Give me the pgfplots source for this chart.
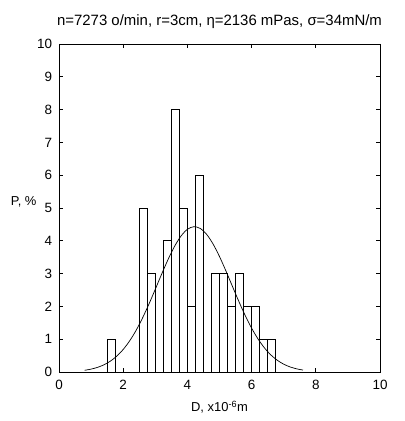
\documentclass[border=0pt]{standalone}
\usepackage{pgfplots}
\pgfplotsset{compat=1.18}
\usepackage{fontspec}
\setmainfont{Liberation Sans}
\begin{document}
\begin{tikzpicture}
\begin{axis}[
  scale only axis,
  width=321bp, height=328bp,
  xmin=0, xmax=10, ymin=0, ymax=10,
  xtick={0,2,4,6,8,10}, ytick={0,1,...,10},
  tick align=inside,
  major tick length=4bp,
  axis line style={line width=0.9pt},
  tick style={line width=0.7pt, black},
  /pgf/number format/assume math mode=true,
  ticklabel style={font=\fontsize{13.5}{15}\selectfont},
  xticklabel style={yshift=-5bp},
  yticklabel style={xshift=-3.5bp},
  label style={font=\fontsize{13}{15}\selectfont},
  title style={font=\fontsize{15}{17}\selectfont, yshift=6bp},
  title={n=7273 o/min, r=3cm, η=2136 mPas, σ=34mN/m},
  xlabel={D, x10\textsuperscript{-6}m},
  xlabel style={yshift=-4bp},
  ylabel={P, \%},
  ylabel style={rotate=-90, anchor=east, at={(rel axis cs:0,0.52)}, xshift=-19bp},
  clip=false,
]
\path (rel axis cs:-0.1838,-0.1494) rectangle (rel axis cs:1.0748,1.1341);
\addplot[ybar, bar width=0.25, fill=none, draw=black, line width=0.8pt] coordinates {
(1.625,1) (2.625,5) (2.875,3) (3.375,4) (3.625,8) (3.875,5) (4.125,2) (4.375,6)
(4.875,3) (5.125,3) (5.375,2) (5.625,3) (5.875,2) (6.125,2) (6.375,1) (6.625,1)
};
\addplot[black, line width=0.7pt, smooth] coordinates {
(0.8,0.053) (1.0,0.088) (1.2,0.141) (1.4,0.219) (1.6,0.331) (1.8,0.484)
(2.0,0.688) (2.2,0.947) (2.4,1.267) (2.6,1.643) (2.8,2.067) (3.0,2.524)
(3.2,2.990) (3.4,3.436) (3.6,3.831) (3.8,4.144) (4.0,4.350) (4.2,4.430)
(4.4,4.376) (4.6,4.195) (4.8,3.901) (5.0,3.520) (5.2,3.081) (5.4,2.617)
(5.6,2.157) (5.8,1.724) (6.0,1.337) (6.2,1.007) (6.4,0.735) (6.6,0.520)
(6.8,0.358) (7.0,0.238) (7.2,0.154) (7.4,0.097) (7.6,0.059)
};
\end{axis}
\end{tikzpicture}
\end{document}
